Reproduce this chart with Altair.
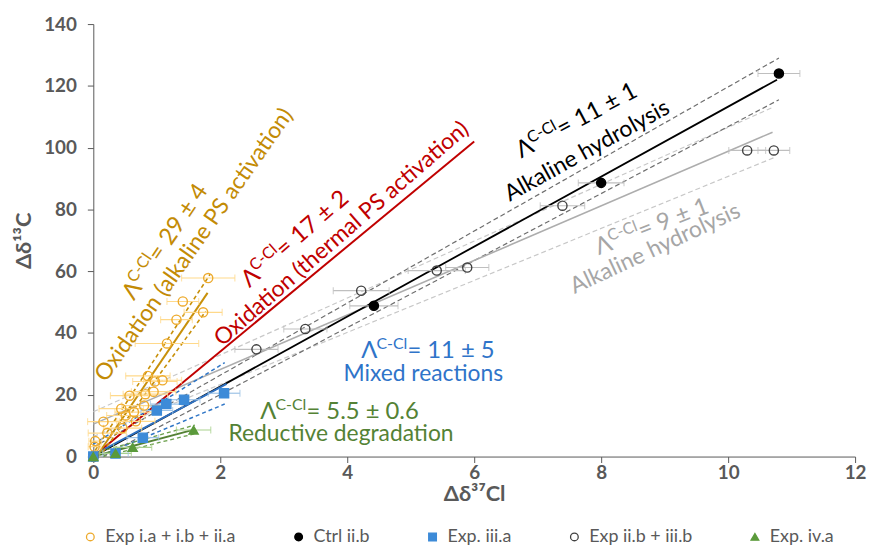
import altair as alt
import pandas as pd

FONT = "Lato"
AX = "#595959"

# ---------------- data ----------------
series = ["Exp i.a + i.b + ii.a", "Ctrl ii.b", "Exp. iii.a", "Exp ii.b + iii.b", "Exp. iv.a"]

expi_x = [0.00, 0.02, 0.03, 0.16, 0.22, 0.46, 0.51, 0.44, 0.64, 0.67, 0.57, 0.80, 0.82, 0.95, 0.86, 0.97, 1.09, 1.16, 1.31, 1.73, 1.41, 1.81]
expi_y = [0.0, 3.2, 5.0, 11.3, 7.6, 9.2, 13.3, 15.5, 14.4, 11.4, 19.7, 16.5, 20.2, 21.0, 26.1, 24.3, 24.7, 36.6, 44.3, 46.7, 50.2, 57.8]
expi_e = [0.05, 0.10, 0.10, 0.25, 0.30, 0.30, 0.30, 0.35, 0.30, 0.30, 0.30, 0.35, 0.35, 0.35, 0.35, 0.35, 0.30, 0.50, 0.25, 0.30, 0.25, 0.42]

ctrl_x = [0.0, 4.42, 8.00, 10.80]
ctrl_y = [0.0, 48.8, 88.6, 124.0]
ctrl_e = [0.0, 0.38, 0.36, 0.33]

expiii_x = [0.00, 0.35, 0.78, 1.00, 1.15, 1.43, 2.06]
expiii_y = [0.0, 1.0, 6.1, 14.9, 17.0, 18.4, 20.5]
expiii_e = [0.05, 0.20, 0.25, 0.25, 0.25, 0.25, 0.25]

expiib_x = [0.0, 2.57, 3.34, 4.22, 5.41, 5.89, 7.39, 10.30, 10.72]
expiib_y = [0.0, 34.7, 41.3, 53.7, 60.2, 61.2, 81.2, 99.1, 99.1]
expiib_e = [0.0, 0.34, 0.34, 0.44, 0.45, 0.34, 0.35, 0.29, 0.25]

expiv_x = [0.00, 0.35, 0.62, 1.58]
expiv_y = [0.0, 1.0, 3.0, 8.6]
expiv_e = [0.05, 0.25, 0.30, 0.27]

# regression lines and bands: (x1, y1, x2, y2)
gold_fit = [(0.05, 0.0, 1.80, 53.0)]
gold_band = [(0.03, 2.0, 1.84, 59.0), (0.15, 1.5, 1.77, 47.0)]
red_fit = [(0.0, 0.0, 6.0, 102.0)]
black_fit = [(0.0, 0.0, 10.77, 122.0)]
black_band = [(0.0, 3.0, 10.8, 129.0), (0.15, 0.0, 10.8, 115.5)]
gray_fit = [(0.0, 10.5, 10.7, 105.0)]
gray_band = [(0.0, 14.5, 10.7, 113.0), (0.0, 6.5, 10.75, 97.0)]
blue_fit = [(0.0, 0.5, 2.1, 23.5)]
blue_band = [(0.0, 4.0, 2.07, 30.4), (0.2, 1.0, 2.07, 17.0)]
green_fit = [(0.0, 0.0, 1.6, 8.8)]
green_band = [(0.0, 1.0, 1.6, 10.2), (0.15, 0.0, 1.6, 7.4)]

# annotations: anchor (data units), rotation, text
lam_x = [0.64, 2.46, 6.74, 7.96, 4.22, 2.63]
lam_y = [50.3, 54.5, 96.5, 65.2, 31.8, 12.2]
lam_rot = [56, 41, 28, 21, 0, 0]
lam_val = ["= 29 ± 4", "= 17 ± 2", "= 11 ± 1", "= 9 ± 1", "= 11 ± 5", "= 5.5 ± 0.6"]
desc_x = [0.20, 2.03, 6.56, 7.58, 3.94, 2.13]
desc_y = [23.8, 35.5, 82.5, 52.6, 24.4, 5.1]
desc_rot = [55, 41, 29, 25, 0, 0]
desc_txt = ["Oxidation (alkaline PS activation)", "Oxidation (thermal PS activation)",
            "Alkaline hydrolysis", "Alkaline hydrolysis", "Mixed reactions", "Reductive degradation"]

# ---------------- styles ----------------
GOLD, RED, BLACK, GRAYT, BLUE, GREEN = "#C38B05", "#C00000", "#000000", "#A6A6A6", "#2F74C9", "#548235"
text_colors = [GOLD, RED, BLACK, GRAYT, BLUE, GREEN]

pt_fill = ["transparent", "#000000", "#3D8BD8", "transparent", "#5B9A3B"]
pt_stroke = ["#EDAA2C", "#000000", "#3D8BD8", "#404040", "#5B9A3B"]
pt_shape = ["circle", "circle", "square", "circle", "triangle-up"]
err_col = ["#FFD98A", "#BFBFBF", "#9DC3E6", "#BFBFBF", "#A9D18E"]

rows = []
order = {"Exp ii.b + iii.b": 0, "Ctrl ii.b": 1, "Exp i.a + i.b + ii.a": 2, "Exp. iii.a": 3, "Exp. iv.a": 4}
for i, (xs_, ys_, es_) in enumerate(zip([expi_x, ctrl_x, expiii_x, expiib_x, expiv_x],
                                        [expi_y, ctrl_y, expiii_y, expiib_y, expiv_y],
                                        [expi_e, ctrl_e, expiii_e, expiib_e, expiv_e])):
    s = series[i]
    for x, y, e in zip(xs_, ys_, es_):
        rows.append(dict(series=s, x=x, y=y, lo=x - e, hi=x + e, ecol=err_col[i], e=e, ord=order[s]))
pts = pd.DataFrame(rows).sort_values("ord", kind="stable").reset_index(drop=True)

xscale = alt.Scale(domain=[0, 12], nice=False, zero=False)
yscale = alt.Scale(domain=[0, 140], nice=False, zero=False)

xaxis = alt.Axis(title="Δδ³⁷Cl", values=list(range(0, 13, 2)), grid=False,
                 labelFont=FONT, labelFontWeight="bold", labelFontSize=19, labelColor=AX,
                 titleFont=FONT, titleFontWeight="bold", titleFontSize=22, titleColor=AX,
                 tickSize=6, tickColor=AX, domainColor=AX, labelPadding=1, titlePadding=1,
                 labelFlush=False)
yaxis = alt.Axis(title="Δδ¹³C", values=list(range(0, 141, 20)), grid=False,
                 labelFont=FONT, labelFontWeight="bold", labelFontSize=19, labelColor=AX,
                 titleFont=FONT, titleFontWeight="bold", titleFontSize=22, titleColor=AX,
                 tickSize=6, tickColor=AX, domainColor=AX, labelPadding=11, titlePadding=8,
                 labelFlush=False)


def X(f):
    return alt.X(f, type="quantitative", scale=xscale, axis=xaxis)


def Y(f):
    return alt.Y(f, type="quantitative", scale=yscale, axis=yaxis)


layers = []


def seg_layer(segs, color, width=1.5, dash=None):
    df = pd.DataFrame(segs, columns=["x1", "y1", "x2", "y2"])
    kw = dict(color=color, strokeWidth=width)
    if dash:
        kw["strokeDash"] = dash
    return alt.Chart(df).mark_rule(**kw).encode(x=X("x1"), y=Y("y1"), x2="x2", y2="y2")


# bands & fits
layers += [
    seg_layer(gray_band, "#C8C8C8", 1.2, [5, 3]),
    seg_layer(black_band, "#6E6E6E", 1.2, [5, 3]),
    seg_layer(gray_fit, "#ADADAD", 1.6),
    seg_layer(black_fit, BLACK, 1.8),
    seg_layer(red_fit, RED, 2.0),
    seg_layer(blue_band, "#2E75C6", 1.5, [4, 3]),
    seg_layer(blue_fit, "#2E70C0", 2.0),
    seg_layer(green_band, "#6A9F4A", 1.3, [4, 3]),
    seg_layer(green_fit, GREEN, 2.0),
    seg_layer(gold_band, "#C8900A", 1.6, [4, 3]),
    seg_layer(gold_fit, "#C8900A", 2.0),
]

# error bars
eb = pts[pts["e"] > 0]
layers.append(alt.Chart(eb).mark_rule(strokeWidth=1.2).encode(
    x=X("lo"), x2="hi", y=Y("y"), color=alt.Color("ecol:N", scale=None)))
layers.append(alt.Chart(eb).mark_tick(orient="vertical", size=7, thickness=1.2).encode(
    x=X("lo"), y=Y("y"), color=alt.Color("ecol:N", scale=None)))
layers.append(alt.Chart(eb).mark_tick(orient="vertical", size=7, thickness=1.2).encode(
    x=X("hi"), y=Y("y"), color=alt.Color("ecol:N", scale=None)))

# points
leg = alt.Legend(title=None, orient="none", legendX=-12, legendY=508, direction="horizontal",
                 columns=5, columnPadding=54, labelFont=FONT, labelFontSize=18, labelColor=AX,
                 symbolSize=60, symbolStrokeWidth=1.3, labelOffset=6, padding=0)
layers.append(alt.Chart(pts).mark_point(opacity=1, strokeWidth=1.4, fillOpacity=1, size=85).encode(
    x=X("x"), y=Y("y"),
    shape=alt.Shape("series:N", scale=alt.Scale(domain=series, range=pt_shape), legend=leg),
    fill=alt.Fill("series:N", scale=alt.Scale(domain=series, range=pt_fill), legend=leg),
    stroke=alt.Stroke("series:N", scale=alt.Scale(domain=series, range=pt_stroke), legend=leg),
))

# annotations
FS = 23
FSL = 24
SUP = 16
W_LAM = 0.64 * FSL
W_SUP = 1.95 * SUP
for i in range(6):
    col = text_colors[i]
    d1 = pd.DataFrame({"x": [lam_x[i]], "y": [lam_y[i]], "t": ["Λ"]})
    d2 = pd.DataFrame({"x": [lam_x[i]], "y": [lam_y[i]], "t": ["C-Cl"]})
    d3 = pd.DataFrame({"x": [lam_x[i]], "y": [lam_y[i]], "t": [lam_val[i]]})
    d4 = pd.DataFrame({"x": [desc_x[i]], "y": [desc_y[i]], "t": [desc_txt[i]]})
    c1 = dict(font=FONT, color=col, align="left", baseline="alphabetic", angle=(360 - lam_rot[i]) % 360)
    c2 = dict(font=FONT, color=col, align="left", baseline="alphabetic", angle=(360 - desc_rot[i]) % 360)
    layers.append(alt.Chart(d1).mark_text(fontSize=FSL, **c1).encode(x=X("x"), y=Y("y"), text="t:N"))
    layers.append(alt.Chart(d2).mark_text(fontSize=SUP, dx=W_LAM, dy=-9, **c1).encode(x=X("x"), y=Y("y"), text="t:N"))
    layers.append(alt.Chart(d3).mark_text(fontSize=FSL, dx=W_LAM + W_SUP, **c1).encode(x=X("x"), y=Y("y"), text="t:N"))
    layers.append(alt.Chart(d4).mark_text(fontSize=FS, **c2).encode(x=X("x"), y=Y("y"), text="t:N"))

chart = alt.layer(*layers).properties(
    width=768, height=436,
    padding={"left": 86, "top": 14, "right": 12, "bottom": 93},
    autosize=alt.AutoSizeParams(type="none"),
).configure_view(stroke=None)

chart.save("out.html", embed_options={"renderer": "svg", "actions": False})
